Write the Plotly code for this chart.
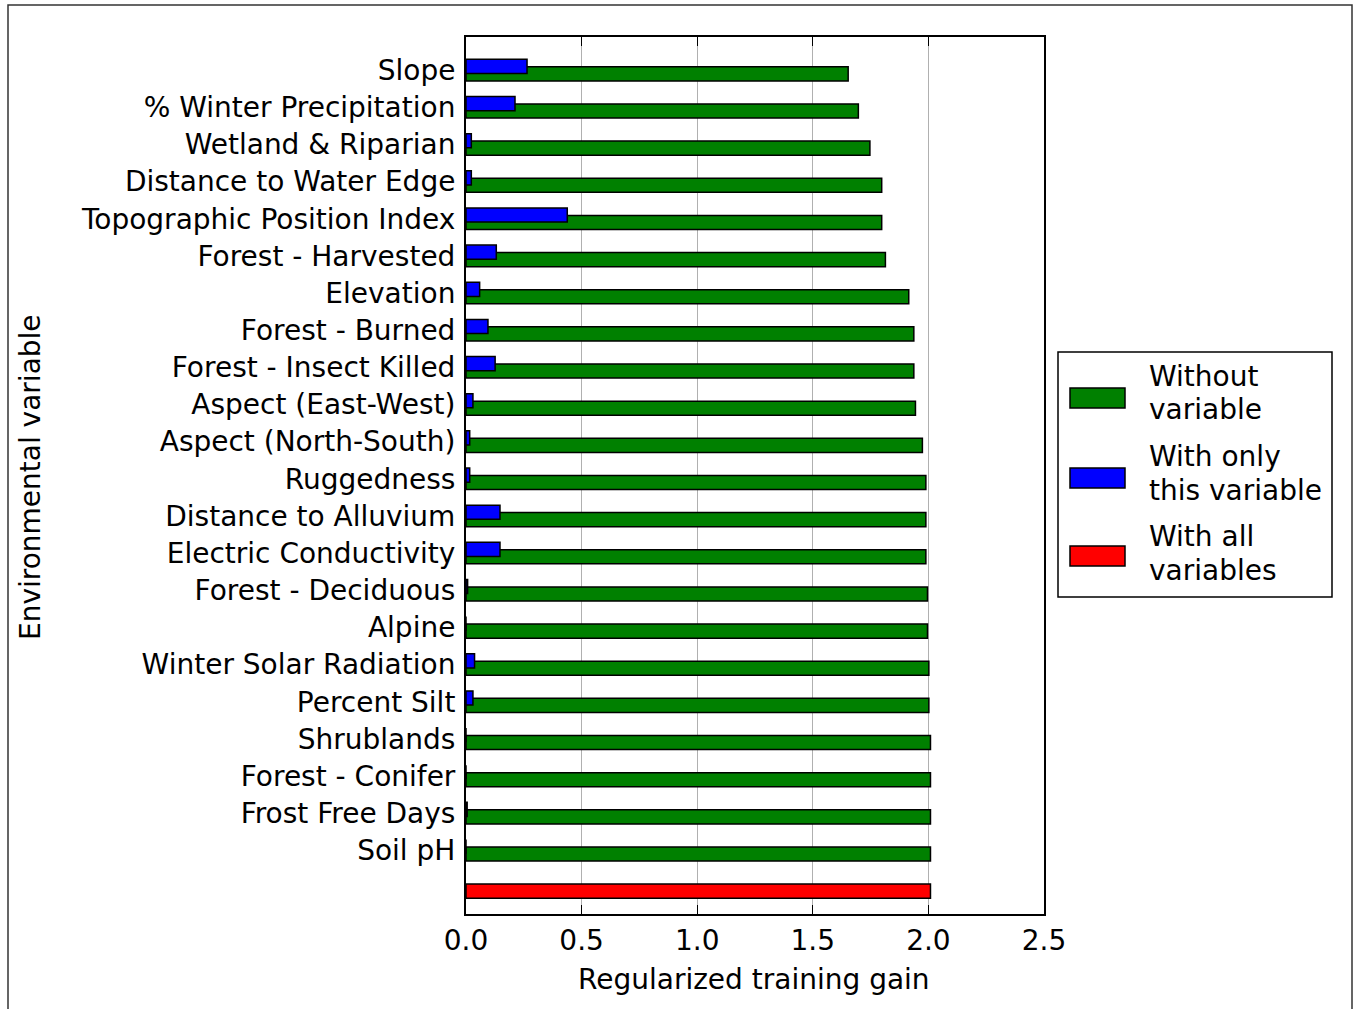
import plotly.graph_objects as go

# ---------------- data ----------------
variables = ["Slope", "% Winter Precipitation", "Wetland & Riparian", "Distance to Water Edge",
             "Topographic Position Index", "Forest - Harvested", "Elevation", "Forest - Burned",
             "Forest - Insect Killed", "Aspect (East-West)", "Aspect (North-South)", "Ruggedness",
             "Distance to Alluvium", "Electric Conductivity", "Forest - Deciduous", "Alpine",
             "Winter Solar Radiation", "Percent Silt", "Shrublands", "Forest - Conifer",
             "Frost Free Days", "Soil pH"]
without_variable = [1.653, 1.697, 1.747, 1.798, 1.798, 1.814, 1.915, 1.937, 1.937, 1.944, 1.974,
                    1.989, 1.989, 1.989, 1.996, 1.996, 2.002, 2.002, 2.009, 2.009, 2.009, 2.009]
only_variable = [0.264, 0.212, 0.023, 0.023, 0.438, 0.131, 0.059, 0.095, 0.126, 0.030, 0.016,
                 0.016, 0.147, 0.147, 0.007, 0.0, 0.037, 0.030, 0.0, 0.0, 0.005, 0.0]
all_variables = [2.009]
x_ticks = [0.0, 0.5, 1.0, 1.5, 2.0, 2.5]
legend_labels = [["Without", "variable"], ["With only", "this variable"], ["With all", "variables"]]

# ---------------- layout helpers ----------------
W, H = 1354, 1009
L, R, T, B = 466, 1044, 37, 914
FONT = "DejaVu Sans"
FS = 28

def px(x):
    return (x - L) / (R - L)

def py(y):
    return (B - y) / (B - T)

n = len(variables)
rows = [n - i for i in range(n)]          # Slope at top
green_y = [r - 0.1 for r in rows]
blue_y = [r + 0.1 for r in rows]
bw = 0.38

fig = go.Figure()
fig.add_trace(go.Bar(x=without_variable, y=green_y, orientation="h", width=bw,
                     marker=dict(color="#008000", line=dict(color="black", width=1.5)),
                     name="Without variable", showlegend=False))
fig.add_trace(go.Bar(x=only_variable, y=blue_y, orientation="h", width=bw,
                     marker=dict(color="#0000ff", line=dict(color="black", width=1.5)),
                     name="With only this variable", showlegend=False))
fig.add_trace(go.Bar(x=all_variables, y=[-0.1], orientation="h", width=bw,
                     marker=dict(color="#ff0000", line=dict(color="black", width=1.5)),
                     name="With all variables", showlegend=False))

fig.update_layout(
    width=W, height=H,
    margin=dict(l=L, r=W - R, t=T, b=H - B, pad=0),
    paper_bgcolor="white", plot_bgcolor="white",
    barmode="overlay",
    font=dict(family=FONT, size=FS, color="black"),
    xaxis=dict(range=[0, 2.5], tickvals=x_ticks, ticktext=[f"{v:.1f}" for v in x_ticks],
               showgrid=True, gridcolor="#b0b0b0", gridwidth=1,
               showline=True, linecolor="black", linewidth=2, mirror="ticks",
               ticks="inside", ticklen=9, tickwidth=1, tickcolor="black",
               ticklabelstandoff=0, zeroline=False,
               tickfont=dict(family=FONT, size=FS, color="black")),
    yaxis=dict(range=[-0.715, n + 0.892], tickvals=rows, ticktext=variables,
               showgrid=False, showline=True, linecolor="black", linewidth=2, mirror=True,
               ticks="", ticklabelstandoff=3, zeroline=False,
               tickfont=dict(family=FONT, size=FS, color="black")),
)

annotations = [
    dict(text="Regularized training gain", x=px(754), y=py(979), xref="paper", yref="paper",
         xanchor="center", yanchor="middle", showarrow=False,
         font=dict(family=FONT, size=FS, color="black")),
    dict(text="Environmental variable", x=px(31), y=py(477), xref="paper", yref="paper",
         xanchor="center", yanchor="middle", showarrow=False, textangle=-90,
         font=dict(family=FONT, size=FS, color="black")),
]

shapes = [
    # outer frame of the picture
    dict(type="rect", xref="paper", yref="paper", x0=px(8), x1=px(1352), y0=py(1015), y1=py(5),
         line=dict(color="#333333", width=1.5), fillcolor="rgba(0,0,0,0)", layer="above"),
    # legend box
    dict(type="rect", xref="paper", yref="paper", x0=px(1058), x1=px(1332), y0=py(597), y1=py(352),
         line=dict(color="black", width=1.5), fillcolor="white", layer="above"),
]

legend_colors = ["#008000", "#0000ff", "#ff0000"]
patch_centers = [398, 478, 556]
line_centers = [(376, 410), (456, 490), (536, 570)]
for col, pc, (l1, l2), labs in zip(legend_colors, patch_centers, line_centers, legend_labels):
    shapes.append(dict(type="rect", xref="paper", yref="paper", x0=px(1070), x1=px(1125),
                       y0=py(pc + 10), y1=py(pc - 10), line=dict(color="black", width=1.5),
                       fillcolor=col, layer="above"))
    for txt, yy in zip(labs, (l1, l2)):
        annotations.append(dict(text=txt, x=px(1147), y=py(yy), xref="paper", yref="paper",
                                xanchor="left", yanchor="middle", showarrow=False,
                                font=dict(family=FONT, size=FS, color="black")))

fig.update_layout(annotations=annotations, shapes=shapes)
fig.write_html("out.html", config={"displayModeBar": False},
               post_script="document.body.style.margin='0';document.body.style.overflow='hidden';")
